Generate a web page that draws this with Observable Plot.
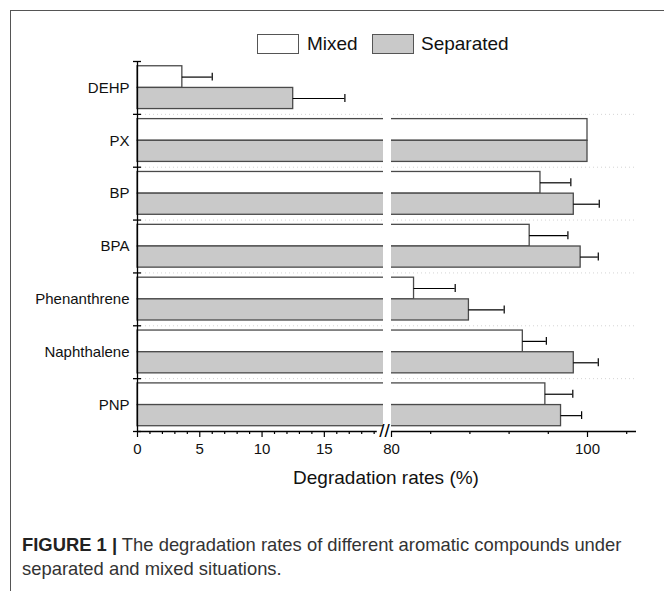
<!DOCTYPE html>
<html>
<head>
<meta charset="utf-8">
<script src="https://cdn.jsdelivr.net/npm/d3@7"></script>
<script src="https://cdn.jsdelivr.net/npm/@observablehq/plot@0.6"></script>
<style>
  html, body { margin: 0; padding: 0; background: #fff; }
  #wrap { position: relative; width: 664px; height: 591px; overflow: hidden; font-family: "Liberation Sans", Arial, sans-serif; }
  #frame { position: absolute; left: 10px; top: 10px; width: 700px; height: 700px; border-left: 1.6px solid #555; border-top: 1.6px solid #555; }
  #chart { position: absolute; left: 0; top: 0; }
  .lg-box { position: absolute; top: 34px; width: 42px; height: 20px; border: 1.3px solid #555; box-sizing: border-box; }
  .lg-txt { position: absolute; top: 31px; font-size: 19px; color: #111; line-height: 26px; }
  #xtitle { position: absolute; left: 286px; top: 467px; width: 200px; text-align: center; font-size: 19px; color: #111; white-space: nowrap; }
  #caption { position: absolute; left: 22px; top: 533px; font-size: 18.4px; line-height: 24px; color: #333; white-space: nowrap; font-family: "Liberation Sans Narrow", "Liberation Sans", Arial, sans-serif; }
  #caption b { color: #222; }
</style>
</head>
<body>
<div id="wrap">
  <div id="frame"></div>
  <div id="chart"></div>
  <div class="lg-box" style="left:257px;background:#fff"></div>
  <div class="lg-txt" id="lg1" style="left:307px"></div>
  <div class="lg-box" style="left:372px;background:#c9c9c9"></div>
  <div class="lg-txt" id="lg2" style="left:421px"></div>
  <div id="xtitle"></div>
  <div id="caption"></div>
</div>
<script>
// ---- data ----
const categories = ["DEHP", "PX", "BP", "BPA", "Phenanthrene", "Naphthalene", "PNP"];
const seriesNames = ["Mixed", "Separated"];
const mixed = [3.6, 100, 95.2, 94.1, 82.3, 93.4, 95.7];
const mixedErr = [2.4, 0, 3.1, 3.9, 4.2, 2.4, 2.8];
const separated = [12.5, 100, 98.6, 99.3, 87.9, 98.6, 97.3];
const separatedErr = [4.15, 0, 2.6, 1.8, 3.6, 2.5, 2.1];
const labeledTicks = [0, 5, 10, 15, 80, 100];
const minorTicks = [1,2,3,4,6,7,8,9,11,12,13,14,16,17,18,19,84,88,92,96,104];
const axisBreak = [19.75, 80];
const xMax = 105;
const xTitle = "Degradation rates (%)";
const captionBold = "FIGURE 1 |";
const captionText = ["The degradation rates of different aromatic compounds under", "separated and mixed situations."];

// ---- build table ----
const rows = [];
categories.forEach((c, i) => {
  rows.push({cat: c, i, series: "Mixed", value: mixed[i], err: mixedErr[i]});
  rows.push({cat: c, i, series: "Separated", value: separated[i], err: separatedErr[i]});
});
// vertical placement inside each category band (band = 1 unit)
const slot = {Mixed: [0.09, 0.5], Separated: [0.5, 0.9]};
const center = d => d.i + (slot[d.series][0] + slot[d.series][1]) / 2;
const withErr = rows.filter(d => d.err > 0);
const fills = {Mixed: "#ffffff", Separated: "#c9c9c9"};

const boundaries = d3.range(0, categories.length + 1);

const chart = Plot.plot({
  width: 664,
  height: 500,
  marginLeft: 137,
  marginRight: 28,
  marginTop: 61,
  marginBottom: 69,
  style: {fontFamily: "Liberation Sans, Arial, sans-serif", fontSize: "15px", color: "#111", background: "transparent"},
  x: {type: "linear", domain: [0, axisBreak[0], axisBreak[1], xMax], range: [137, 383, 391, 636], axis: null, label: null},
  y: {domain: [0, categories.length], reverse: true, axis: null, label: null},
  marks: [
    // faint dotted separators
    Plot.ruleY(boundaries.slice(1, -1), {x1: 0, x2: xMax, stroke: "#d4d4d4", strokeDasharray: "1,3", strokeWidth: 1}),
    // bars
    Plot.rect(rows, {x1: 0, x2: "value", y1: d => d.i + slot[d.series][0], y2: d => d.i + slot[d.series][1],
      fill: d => fills[d.series], stroke: "#4a4a4a", strokeWidth: 1.3}),
    // error bars
    Plot.ruleY(withErr, {y: center, x1: "value", x2: d => d.value + d.err, stroke: "#000", strokeWidth: 1.2}),
    Plot.ruleX(withErr, {x: d => d.value + d.err, y1: d => center(d) - 0.075, y2: d => center(d) + 0.075, stroke: "#000", strokeWidth: 1.2}),
    // axis break gap
    Plot.rect([0], {x1: axisBreak[0], x2: axisBreak[1], y1: 0, y2: categories.length, fill: "#fff"}),
    // y axis line and boundary ticks
    Plot.ruleX([0], {y1: 0, y2: categories.length, stroke: "#000", strokeWidth: 1.3}),
    Plot.axisY({ticks: boundaries, tickSize: 4, tickFormat: () => "", label: null, stroke: "#000", strokeWidth: 1.3}),
    Plot.axisY({ticks: boundaries, tickSize: -4, tickFormat: () => "", label: null, stroke: "#000", strokeWidth: 1.3}),
    // category labels
    Plot.text(categories, {x: 0, y: (d, i) => i + 0.5, text: d => d, textAnchor: "end", dx: -8, fontSize: 15, fill: "#111"}),
    // x axis line (broken)
    Plot.ruleY([categories.length], {x1: 0, x2: axisBreak[0] - 0.5, stroke: "#000", strokeWidth: 1.3}),
    Plot.ruleY([categories.length], {x1: axisBreak[1], x2: xMax, stroke: "#000", strokeWidth: 1.3}),
    Plot.text(["//"], {x: (axisBreak[0] + axisBreak[1]) / 2, y: categories.length, text: d => d, fontSize: 19, fill: "#000", dx: -3, dy: -1}),
    // x ticks
    Plot.axisX({ticks: labeledTicks, tickSize: 6, tickPadding: 6, label: null, stroke: "#000", strokeWidth: 1.2, fontSize: 15, tickFormat: d => String(d)}),
    Plot.axisX({ticks: minorTicks, tickSize: 3, label: null, stroke: "#000", strokeWidth: 1.2, tickFormat: () => ""})
  ]
});
document.getElementById("chart").appendChild(chart);

document.getElementById("lg1").textContent = seriesNames[0];
document.getElementById("lg2").textContent = seriesNames[1];
document.getElementById("xtitle").textContent = xTitle;
const cap = document.getElementById("caption");
const b = document.createElement("b");
b.textContent = captionBold;
cap.appendChild(b);
cap.appendChild(document.createTextNode(" " + captionText[0]));
cap.appendChild(document.createElement("br"));
cap.appendChild(document.createTextNode(captionText[1]));
</script>
</body>
</html>
